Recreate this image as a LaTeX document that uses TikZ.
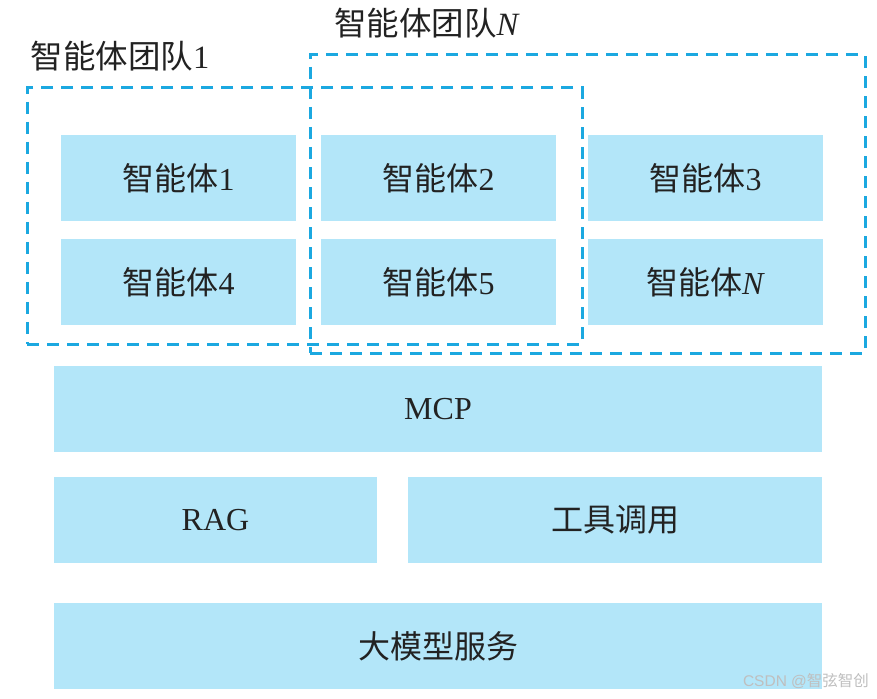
\documentclass[tikz,border=0pt]{standalone}
\usepackage{fontspec}
\setmainfont{Liberation Serif}
\newfontfamily\cjk{Noto Sans CJK SC}
\newfontfamily\wmsans{Liberation Sans}
\definecolor{blkfill}{HTML}{B3E6F9}
\definecolor{dashblue}{HTML}{1BA8E0}
\definecolor{txt}{HTML}{222222}
\tikzset{
  blk/.style={draw=none, fill=blkfill, inner sep=0pt, text=txt, font=\fontsize{32}{34}\selectfont},
  team/.style={draw=dashblue, line width=3pt, dash pattern=on 12pt off 8pt, inner sep=0pt},
  teamlabel/.style={inner sep=0pt, text=txt, font=\fontsize{32.5}{34}\selectfont},
}
% box by corners: \bx{name}{x1}{y1}{x2}{y2}{text}
\newcommand{\bx}[6]{%
  \node[blk, minimum width={(#4-#2)*1pt}, minimum height={(#5-#3)*1pt}] (#1) at ({(#2+#4)/2},{(#3+#5)/2}) {#6};}
\begin{document}
\begin{tikzpicture}[x=1pt,y=-1pt]
\useasboundingbox (0,0) rectangle (877,698);
\fill[white] (0,0) rectangle (877,698);
% agent boxes
\bx{a1}{61}{135}{296}{221}{{\cjk 智能体}1}
\bx{a2}{321}{135}{556}{221}{{\cjk 智能体}2}
\bx{a3}{588}{135}{823}{221}{{\cjk 智能体}3}
\bx{a4}{61}{239}{296}{325}{{\cjk 智能体}4}
\bx{a5}{321}{239}{556}{325}{{\cjk 智能体}5}
\bx{an}{588}{239}{823}{325}{{\cjk 智能体}\textit{N}}
% layers
\bx{mcp}{54}{366}{822}{452}{MCP}
\bx{rag}{54}{477}{377}{563}{RAG}
\bx{tool}{408}{477}{822}{563}{{\cjk 工具调用}}
\bx{llm}{54}{603}{822}{689}{{\cjk 大模型服务}}
% teams
\node[team, minimum width=555pt, minimum height=256pt] (t1) at ({(27+582)/2},{(88+344)/2}) {};
\node[team, minimum width=555pt, minimum height=298pt] (tn) at ({(310+865)/2},{(55+353)/2}) {};
\node[teamlabel] (t1l) at (120,56) {{\cjk 智能体团队}1};
\node[teamlabel] (tnl) at (427,23) {{\cjk 智能体团队}\textit{N}};
% watermark
\node[inner sep=0pt, text=black!25, font=\fontsize{15.5}{17}\selectfont] (wm) at (806,681) {\wmsans CSDN @{\cjk 智弦智创}};
\end{tikzpicture}
\end{document}
